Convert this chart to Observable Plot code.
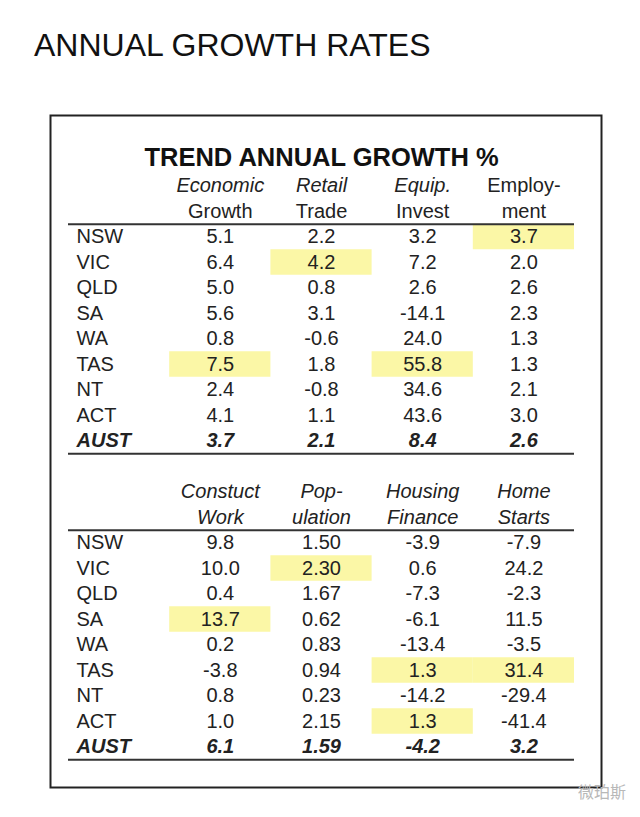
<!DOCTYPE html>
<html>
<head>
<meta charset="utf-8">
<script src="https://cdn.jsdelivr.net/npm/d3@7"></script>
<script src="https://cdn.jsdelivr.net/npm/@observablehq/plot@0.6"></script>
<style>
  html, body { margin: 0; padding: 0; background: #fff; }
  #page { position: relative; width: 640px; height: 817px; overflow: hidden; }
  #title { position: absolute; left: 34px; top: 27px; margin: 0; font: 400 32px "Liberation Sans", Arial, sans-serif; color: #111; white-space: nowrap; }
  #chart { position: absolute; left: 0; top: 90px; }
  #mark { position: absolute; left: 578px; top: 779px; font: 16px "Noto Sans CJK SC", sans-serif; color: #b8b8b8; }
</style>
</head>
<body>
<div id="page">
  <h1 id="title">ANNUAL GROWTH RATES</h1>
  <div id="chart"></div>
  <div id="mark">微珀斯</div>
</div>
<script>
// ---- data ----
const tableTitle = "TREND ANNUAL GROWTH %";
const states = ["NSW", "VIC", "QLD", "SA", "WA", "TAS", "NT", "ACT", "AUST"];

const headers1 = [["Economic", "Growth"], ["Retail", "Trade"], ["Equip.", "Invest"], ["Employ-", "ment"]];
const headerItalic1 = [[true, false], [true, false], [true, false], [false, false]];
const economicGrowth = [5.1, 6.4, 5.0, 5.6, 0.8, 7.5, 2.4, 4.1, 3.7];
const retailTrade = [2.2, 4.2, 0.8, 3.1, -0.6, 1.8, -0.8, 1.1, 2.1];
const equipInvest = [3.2, 7.2, 2.6, -14.1, 24.0, 55.8, 34.6, 43.6, 8.4];
const employment = [3.7, 2.0, 2.6, 2.3, 1.3, 1.3, 2.1, 3.0, 2.6];
const decimals1 = [1, 1, 1, 1];

const headers2 = [["Constuct", "Work"], ["Pop-", "ulation"], ["Housing", "Finance"], ["Home", "Starts"]];
const headerItalic2 = [[true, true], [true, true], [true, true], [true, true]];
const constructWork = [9.8, 10.0, 0.4, 13.7, 0.2, -3.8, 0.8, 1.0, 6.1];
const population = [1.50, 2.30, 1.67, 0.62, 0.83, 0.94, 0.23, 2.15, 1.59];
const housingFinance = [-3.9, 0.6, -7.3, -6.1, -13.4, 1.3, -14.2, 1.3, -4.2];
const homeStarts = [-7.9, 24.2, -2.3, 11.5, -3.5, 31.4, -29.4, -41.4, 3.2];
const decimals2 = [1, 2, 1, 1];

// ---- build table cells ----
const blocks = [
  {start: 0, headers: headers1, italic: headerItalic1, cols: [economicGrowth, retailTrade, equipInvest, employment], decimals: decimals1},
  {start: 12, headers: headers2, italic: headerItalic2, cols: [constructWork, population, housingFinance, homeStarts], decimals: decimals2}
];

const cells = [], headerCells = [], labelCells = [], highlights = [], rules = [];
for (const b of blocks) {
  rules.push(b.start - 0.5, b.start + states.length - 0.5);
  states.forEach((s, i) => labelCells.push({row: b.start + i, text: s, total: s === "AUST"}));
  b.headers.forEach((h, j) => {
    h.forEach((t, k) => headerCells.push({col: j + 1, row: b.start - 2 + k, text: t, italic: b.italic[j][k]}));
  });
  b.cols.forEach((vals, j) => {
    const stateVals = vals.slice(0, states.length - 1);
    const max = d3.max(stateVals);
    vals.forEach((v, i) => {
      cells.push({col: j + 1, row: b.start + i, text: v.toFixed(b.decimals[j]), total: states[i] === "AUST"});
      if (states[i] !== "AUST" && v === max) highlights.push({col: j + 1, row: b.start + i});
    });
  });
}

const ink = "#222";
const chart = Plot.plot({
  width: 640,
  height: 727,
  marginTop: 25,
  marginRight: 39,
  marginBottom: 30,
  marginLeft: 50,
  x: {type: "linear", domain: [0, 5], range: [68, 574], axis: null},
  y: {type: "linear", domain: [0, 20], range: [146.5, 656.5], axis: null},
  style: {fontFamily: "'Liberation Sans', Arial, sans-serif", fontSize: "20px", color: ink, background: "#fff", overflow: "visible"},
  marks: [
    Plot.rect(highlights, {x1: d => d.col, x2: d => d.col + 1, y1: d => d.row - 0.5, y2: d => d.row + 0.5, fill: "#fbf7a6"}),
    Plot.frame({stroke: "#222", strokeWidth: 2}),
    Plot.ruleY(rules, {x1: 0, x2: 5, stroke: "#333", strokeWidth: 2}),
    Plot.text([tableTitle], {x: 2.5, y: -3, text: d => d, fontSize: 25.5, fontWeight: "bold", fill: "#111", dy: -3}),
    Plot.text(headerCells.filter(d => d.italic), {x: d => d.col + 0.5, y: "row", text: "text", fontStyle: "italic", fill: ink}),
    Plot.text(headerCells.filter(d => !d.italic), {x: d => d.col + 0.5, y: "row", text: "text", fill: ink}),
    Plot.text(labelCells.filter(d => !d.total), {x: 0, y: "row", text: "text", textAnchor: "start", dx: 8, fill: ink}),
    Plot.text(labelCells.filter(d => d.total), {x: 0, y: "row", text: "text", textAnchor: "start", dx: 8, fontWeight: "bold", fontStyle: "italic", fill: ink}),
    Plot.text(cells.filter(d => !d.total), {x: d => d.col + 0.5, y: "row", text: "text", fill: ink}),
    Plot.text(cells.filter(d => d.total), {x: d => d.col + 0.5, y: "row", text: "text", fontWeight: "bold", fontStyle: "italic", fill: ink})
  ]
});
document.getElementById("chart").appendChild(chart);
</script>
</body>
</html>
